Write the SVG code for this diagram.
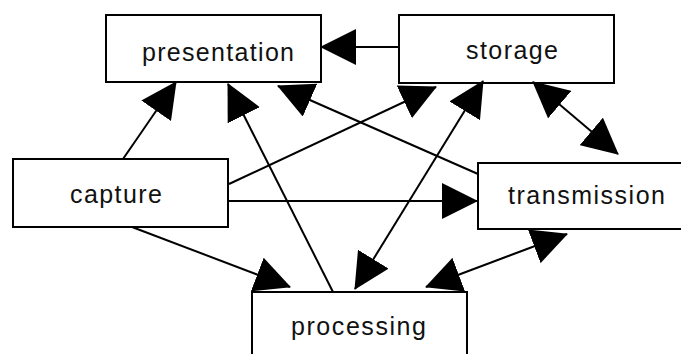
<svg xmlns="http://www.w3.org/2000/svg" width="681" height="354" viewBox="0 0 681 354">
  <style>
    .box { fill: #fff; stroke: #000; stroke-width: 2; }
    .label { font-family: "Liberation Sans Narrow", "Liberation Sans", Arial, sans-serif; font-size: 25px; fill: #111; }
    .edge { stroke: #000; stroke-width: 2; fill: none; }
  </style>
  <defs>
    <marker id="head" markerUnits="userSpaceOnUse" viewBox="0 0 36 36" refX="35" refY="18" markerWidth="36" markerHeight="36" orient="auto-start-reverse">
      <path d="M0,0 L36,18 L0,36 z" fill="#000"/>
    </marker>
  </defs>
  <rect width="681" height="354" fill="#fff"/>

  <g id="presentation">
    <rect class="box" x="106" y="15" width="215" height="67"/>
    <text class="label" x="142" y="61" textLength="152" lengthAdjust="spacing">presentation</text>
  </g>
  <g id="storage">
    <rect class="box" x="399" y="15" width="215" height="68"/>
    <text class="label" x="466" y="59" textLength="92" lengthAdjust="spacing">storage</text>
  </g>
  <g id="capture">
    <rect class="box" x="13" y="159" width="215" height="68"/>
    <text class="label" x="70" y="203" textLength="92" lengthAdjust="spacing">capture</text>
  </g>
  <g id="transmission">
    <rect class="box" x="478" y="163" width="240" height="66"/>
    <text class="label" x="508" y="204" textLength="157" lengthAdjust="spacing">transmission</text>
  </g>
  <g id="processing">
    <rect class="box" x="252" y="292" width="215" height="80"/>
    <text class="label" x="291" y="335" textLength="135" lengthAdjust="spacing">processing</text>
  </g>

  <g id="connectors">
    <line class="edge" x1="399" y1="47" x2="321" y2="47" marker-end="url(#head)"/>
    <line class="edge" x1="123" y1="159" x2="176" y2="82" marker-end="url(#head)"/>
    <line class="edge" x1="333" y1="292" x2="228" y2="84" marker-end="url(#head)"/>
    <line class="edge" x1="478" y1="174" x2="278" y2="86" marker-end="url(#head)"/>
    <line class="edge" x1="229" y1="184" x2="436" y2="87" marker-end="url(#head)"/>
    <line class="edge" x1="483" y1="81" x2="355" y2="289" marker-start="url(#head)" marker-end="url(#head)"/>
    <line class="edge" x1="533" y1="82" x2="618" y2="154" marker-start="url(#head)" marker-end="url(#head)"/>
    <line class="edge" x1="228" y1="201" x2="477" y2="201" marker-end="url(#head)"/>
    <line class="edge" x1="132" y1="227" x2="290" y2="287" marker-end="url(#head)"/>
    <line class="edge" x1="426" y1="287" x2="567" y2="234" marker-start="url(#head)" marker-end="url(#head)"/>
  </g>
</svg>
